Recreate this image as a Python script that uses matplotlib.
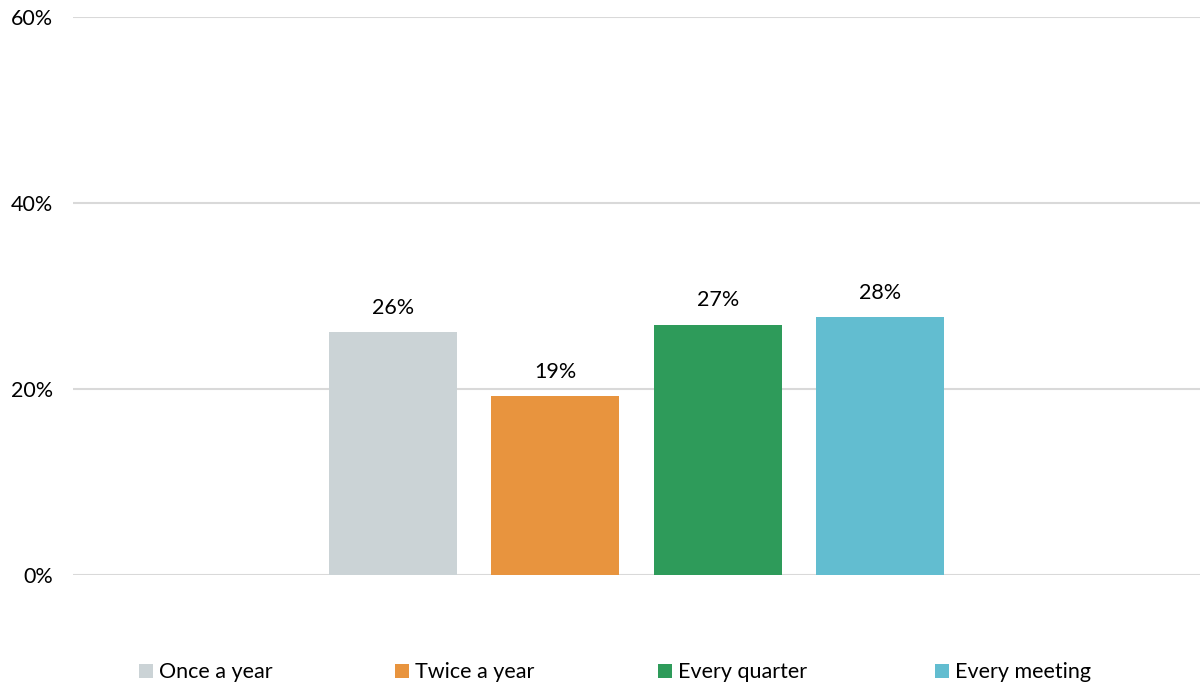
import matplotlib
matplotlib.use("Agg")
import matplotlib.pyplot as plt
from matplotlib.patches import Patch
from matplotlib.ticker import FuncFormatter

categories = ["Once a year", "Twice a year", "Every quarter", "Every meeting"]
values = [0.261, 0.192, 0.269, 0.277]
colors = ["#CBD3D6", "#E8943E", "#2E9B5A", "#62BDD0"]
y_ticks = [0.0, 0.2, 0.4, 0.6]

plt.rcParams["font.family"] = ["Lato", "DejaVu Sans"]
FS = 15.5

W, H = 1200, 688
fig = plt.figure(figsize=(W / 100, H / 100), dpi=100)
ax = fig.add_axes([73 / W, 1 - 575 / H, 1127 / W, (575 - 17) / H])

x = list(range(len(categories)))
bars = ax.bar(x, values, width=0.788, color=colors, zorder=3)

for xi, v in zip(x, values):
    ax.annotate(f"{v * 100:.0f}%", (xi, v), xytext=(0, 10.5), textcoords="offset points",
                ha="center", va="bottom", fontsize=FS, color="#000000")

span = 1127 / 162.5
ax.set_xlim(1.5 - span / 2, 1.5 + span / 2)
ax.set_ylim(0, 0.6)
ax.set_yticks(y_ticks)
ax.yaxis.set_major_formatter(FuncFormatter(lambda v, _: f"{v * 100:.0f}%"))
ax.set_xticks([])
ax.tick_params(axis="y", length=0, pad=14.5, labelsize=FS, labelcolor="#000000")
ax.grid(axis="y", color="#D9D9D9", linewidth=1.5, zorder=0)
ax.set_axisbelow(True)
for s in ax.spines.values():
    s.set_visible(False)

# legend entries laid out in columns along the bottom
legend_x = [139, 395, 658, 935]
for lx, name, c in zip(legend_x, categories, colors):
    fig.legend(handles=[Patch(facecolor=c, edgecolor="none")], labels=[name],
               loc="center left", bbox_to_anchor=(lx / W, 1 - 672.5 / H),
               frameon=False, fontsize=FS, handlelength=0.65, handleheight=0.65,
               handletextpad=0.3, borderpad=0, borderaxespad=0)

fig.savefig("out.png", dpi=100)
